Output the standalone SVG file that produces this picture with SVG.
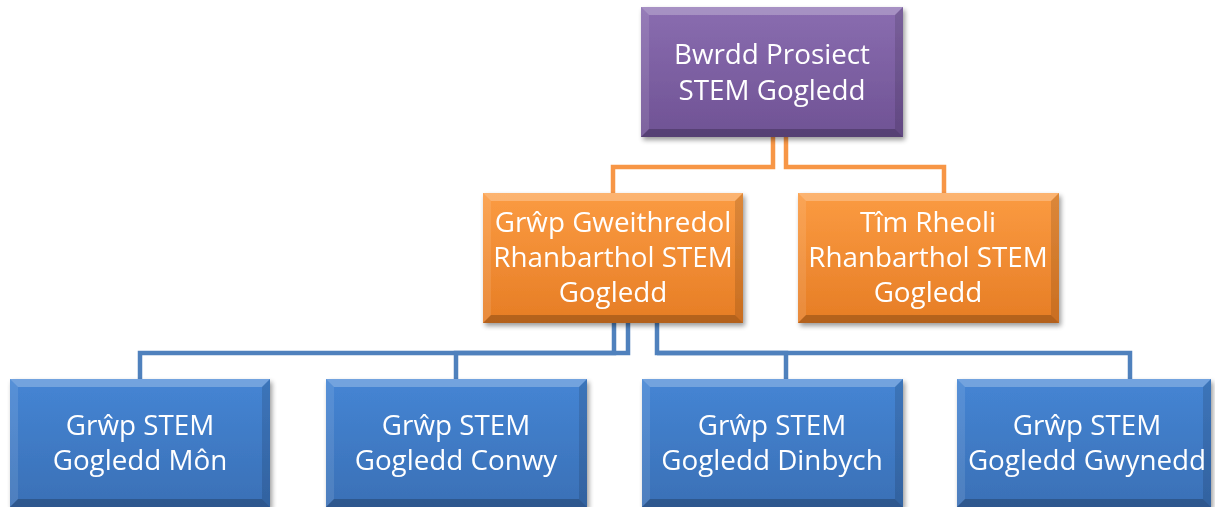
<svg xmlns="http://www.w3.org/2000/svg" width="1215" height="507" viewBox="0 0 1215 507">
<style>
.t{font-family:"Open Sans","Noto Sans","Liberation Sans",sans-serif;font-size:27.8px;fill:#fff;text-anchor:middle}
.lo{fill:none;stroke:#F79646;stroke-width:4.5}
.lb{fill:none;stroke:#4F81BD;stroke-width:4.5}
.hl{fill:#fff;opacity:0.25}
.sl{fill:#fff;opacity:0.1}
.dk{fill:#000;opacity:0.12}
.dk2{fill:#000;opacity:0.22}
</style>
<defs>
<linearGradient id="gp" x1="0" y1="0" x2="0" y2="1"><stop offset="0" stop-color="#8a6db0"/><stop offset="1" stop-color="#6f5294"/></linearGradient>
<linearGradient id="go" x1="0" y1="0" x2="0" y2="1"><stop offset="0" stop-color="#fb9b42"/><stop offset="1" stop-color="#e67d25"/></linearGradient>
<linearGradient id="gb" x1="0" y1="0" x2="0" y2="1"><stop offset="0" stop-color="#4585d4"/><stop offset="1" stop-color="#3a70b6"/></linearGradient>
<filter id="sh" x="-10%" y="-10%" width="125%" height="130%"><feGaussianBlur in="SourceAlpha" stdDeviation="2.5"/><feOffset dx="2" dy="3"/><feComponentTransfer><feFuncA type="linear" slope="0.4"/></feComponentTransfer><feMerge><feMergeNode/><feMergeNode in="SourceGraphic"/></feMerge></filter>
</defs>
<rect width="1215" height="507" fill="#fff"/>
<g id="connectors">
<polyline class="lo" points="773,137 773,167 613,167 613,193"/>
<polyline class="lo" points="786,137 786,167 944,167 944,193"/>
<polyline class="lb" points="614,323 614,353 140,353 140,379"/>
<polyline class="lb" points="628,323 628,353 456,353 456,379"/>
<polyline class="lb" points="657,323 657,353 786,353 786,379"/>
<polyline class="lb" points="657,353 1130,353 1130,379"/>
</g>
<g id="n-bwrdd" filter="url(#sh)">
<rect x="641" y="7" width="262" height="130" fill="url(#gp)"/>
<polygon class="hl" points="641,7 903,7 895,15 649,15"/>
<polygon class="sl" points="641,7 649,15 649,129 641,137"/>
<polygon class="dk" points="903,7 903,137 895,129 895,15"/>
<polygon class="dk2" points="641,137 903,137 895,129 649,129"/>
<text class="t" x="772" y="64">Bwrdd Prosiect</text>
<text class="t" x="772" y="100">STEM Gogledd</text>
</g>
<g id="n-grwp-gweithredol" filter="url(#sh)">
<rect x="483" y="193" width="260" height="130" fill="url(#go)"/>
<polygon class="hl" points="483,193 743,193 735,201 491,201"/>
<polygon class="sl" points="483,193 491,201 491,315 483,323"/>
<polygon class="dk" points="743,193 743,323 735,315 735,201"/>
<polygon class="dk2" points="483,323 743,323 735,315 491,315"/>
<text class="t" x="613" y="232">Grŵp Gweithredol</text>
<text class="t" x="613" y="267">Rhanbarthol STEM</text>
<text class="t" x="613" y="302">Gogledd</text>
</g>
<g id="n-tim-rheoli" filter="url(#sh)">
<rect x="798" y="193" width="261" height="130" fill="url(#go)"/>
<polygon class="hl" points="798,193 1059,193 1051,201 806,201"/>
<polygon class="sl" points="798,193 806,201 806,315 798,323"/>
<polygon class="dk" points="1059,193 1059,323 1051,315 1051,201"/>
<polygon class="dk2" points="798,323 1059,323 1051,315 806,315"/>
<text class="t" x="928" y="232">Tîm Rheoli</text>
<text class="t" x="928" y="267">Rhanbarthol STEM</text>
<text class="t" x="928" y="302">Gogledd</text>
</g>
<g id="n-mon" filter="url(#sh)">
<rect x="10" y="379" width="260" height="128" fill="url(#gb)"/>
<polygon class="hl" points="10,379 270,379 262,387 18,387"/>
<polygon class="sl" points="10,379 18,387 18,499 10,507"/>
<polygon class="dk" points="270,379 270,507 262,499 262,387"/>
<polygon class="dk2" points="10,507 270,507 262,499 18,499"/>
<text class="t" x="140" y="435">Grŵp STEM</text>
<text class="t" x="140" y="470">Gogledd Môn</text>
</g>
<g id="n-conwy" filter="url(#sh)">
<rect x="326" y="379" width="261" height="128" fill="url(#gb)"/>
<polygon class="hl" points="326,379 587,379 579,387 334,387"/>
<polygon class="sl" points="326,379 334,387 334,499 326,507"/>
<polygon class="dk" points="587,379 587,507 579,499 579,387"/>
<polygon class="dk2" points="326,507 587,507 579,499 334,499"/>
<text class="t" x="456" y="435">Grŵp STEM</text>
<text class="t" x="456" y="470">Gogledd Conwy</text>
</g>
<g id="n-dinbych" filter="url(#sh)">
<rect x="642" y="379" width="261" height="128" fill="url(#gb)"/>
<polygon class="hl" points="642,379 903,379 895,387 650,387"/>
<polygon class="sl" points="642,379 650,387 650,499 642,507"/>
<polygon class="dk" points="903,379 903,507 895,499 895,387"/>
<polygon class="dk2" points="642,507 903,507 895,499 650,499"/>
<text class="t" x="772" y="435">Grŵp STEM</text>
<text class="t" x="772" y="470">Gogledd Dinbych</text>
</g>
<g id="n-gwynedd" filter="url(#sh)">
<rect x="957" y="379" width="254" height="128" fill="url(#gb)"/>
<polygon class="hl" points="957,379 1211,379 1203,387 965,387"/>
<polygon class="sl" points="957,379 965,387 965,499 957,507"/>
<polygon class="dk" points="1211,379 1211,507 1203,499 1203,387"/>
<polygon class="dk2" points="957,507 1211,507 1203,499 965,499"/>
<text class="t" x="1087" y="435">Grŵp STEM</text>
<text class="t" x="1087" y="470">Gogledd Gwynedd</text>
</g>
</svg>
